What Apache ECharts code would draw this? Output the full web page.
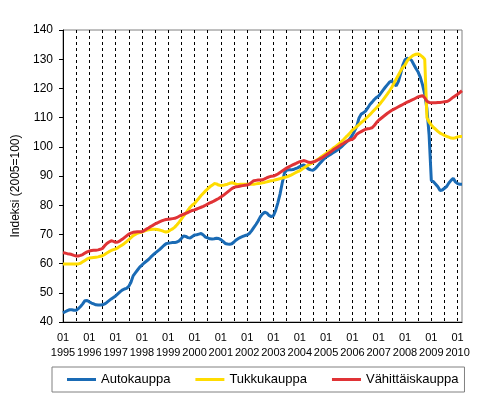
<!DOCTYPE html>
<html>
<head>
<meta charset="utf-8">
<title>Indeksi</title>
<script src="https://cdn.jsdelivr.net/npm/echarts@6/dist/echarts.min.js"></script>
<style>
  html, body { margin: 0; padding: 0; background: #fff; }
  #main { width: 488px; height: 411px; }
</style>
</head>
<body>
<div id="main"></div>
<script>
  // kuukausittain 01/1995 - 03/2010
  const years = ['1995', '1996', '1997', '1998', '1999', '2000', '2001', '2002', '2003',
    '2004', '2005', '2006', '2007', '2008', '2009', '2010']
  const monthsInLastYear = 3

  const autokauppa = [
    43.1, 43.5, 43.9, 44.2, 44.2, 44.0, 44.0, 44.6, 45.3, 46.2, 47.3, 47.4,
    46.9, 46.5, 46.2, 45.9, 45.8, 45.8, 45.9, 46.2, 46.7, 47.3, 47.9, 48.4,
    48.9, 49.6, 50.3, 50.9, 51.3, 51.5, 52.2, 53.6, 55.8, 56.8, 57.8, 58.8,
    59.5, 60.2, 60.8, 61.4, 62.2, 62.9, 63.6, 64.2, 64.8, 65.5, 66.2, 66.8,
    67.0, 67.1, 67.2, 67.2, 67.4, 67.8, 68.6, 69.5, 69.3, 68.9, 68.8, 69.3,
    69.8, 69.9, 70.1, 70.3, 69.8, 69.1, 68.8, 68.5, 68.4, 68.5, 68.7, 68.6,
    68.2, 67.6, 66.9, 66.7, 66.6, 66.8, 67.4, 68.1, 68.6, 69.0, 69.3, 69.6,
    69.8, 70.3, 71.2, 72.3, 73.4, 74.6, 76.0, 77.0, 77.6, 77.3, 76.5, 76.1,
    76.4, 78.2, 80.8, 83.8, 87.6, 91.0, 92.0, 92.1, 92.1, 92.2, 92.5, 92.8,
    93.2, 93.6, 93.8, 93.0, 92.4, 92.1, 92.0, 92.5, 93.3, 94.2, 95.0, 95.8,
    96.5, 96.9, 97.4, 97.9, 98.3, 98.8, 99.4, 100.0, 100.7, 101.4, 102.1, 102.9,
    104.0, 105.5, 107.0, 109.8, 111.2, 111.6, 112.2, 113.3, 114.5, 115.3, 116.2, 116.9,
    117.4, 118.4, 119.4, 120.4, 121.3, 122.2, 122.6, 121.5, 120.9, 122.4, 125.0, 128.0,
    129.8, 130.3, 130.2, 129.6, 128.2, 126.8, 125.6, 123.8, 121.2, 118.0, 113.0, 104.0,
    88.5, 88.0, 87.2, 86.3, 85.0, 85.2, 85.8, 86.4, 87.6, 88.5, 89.2, 88.0,
    87.4, 87.2, 87.2
  ]

  const tukkukauppa = [
    59.9, 59.9, 59.9, 59.9, 59.9, 59.9, 59.9, 59.9, 60.1, 60.6, 61.1, 61.6,
    61.9, 62.0, 62.1, 62.2, 62.3, 62.5, 62.7, 63.1, 63.6, 64.1, 64.5, 64.8,
    65.0, 65.4, 65.9, 66.4, 66.9, 67.5, 68.2, 68.9, 69.6, 70.0, 70.4, 70.6,
    70.8, 71.1, 71.4, 71.6, 71.7, 71.8, 71.8, 71.7, 71.5, 71.3, 71.0, 70.8,
    71.0, 71.5, 71.9, 72.5, 73.3, 74.2, 75.2, 76.3, 77.3, 78.3, 79.3, 80.1,
    80.6, 81.5, 82.4, 83.3, 84.1, 84.9, 85.6, 86.3, 86.8, 87.4, 87.3, 86.9,
    86.7, 86.8, 87.0, 87.2, 87.5, 87.7, 87.5, 87.2, 87.1, 87.2, 87.2, 87.2,
    87.2, 87.2, 87.2, 87.2, 87.3, 87.4, 87.5, 87.7, 87.8, 88.0, 88.2, 88.4,
    88.5, 88.7, 88.9, 89.1, 89.3, 89.5, 89.7, 90.0, 90.3, 90.7, 91.1, 91.5,
    91.8, 92.3, 92.8, 93.3, 93.8, 94.2, 94.6, 95.1, 95.6, 96.1, 96.7, 97.2,
    97.7, 98.3, 98.8, 99.4, 99.9, 100.5, 101.1, 101.8, 102.5, 103.3, 104.0, 104.8,
    105.7, 106.3, 106.9, 107.6, 108.3, 108.9, 109.6, 110.3, 111.0, 111.8, 112.6, 113.4,
    114.2, 115.1, 116.1, 117.1, 118.1, 119.2, 120.4, 121.8, 123.2, 124.6, 126.0, 127.2,
    128.0, 129.4, 130.3, 130.9, 131.4, 131.7, 131.8, 131.4, 130.8, 130.0, 110.0, 108.5,
    107.5, 106.6, 106.0, 105.3, 104.7, 104.3, 103.9, 103.6, 103.3, 103.0, 102.9, 103.1,
    103.4, 103.5, 103.5
  ]

  const vahittaiskauppa = [
    63.7, 63.6, 63.4, 63.3, 63.1, 62.8, 62.6, 62.6, 62.8, 63.1, 63.6, 64.0,
    64.3, 64.5, 64.6, 64.6, 64.7, 64.9, 65.2, 66.1, 66.9, 67.4, 67.8, 67.6,
    67.3, 67.4, 67.8, 68.3, 68.9, 69.5, 70.1, 70.4, 70.7, 70.8, 70.9, 70.9,
    70.9, 71.3, 71.8, 72.2, 72.7, 73.1, 73.6, 73.9, 74.3, 74.6, 74.9, 75.1,
    75.2, 75.3, 75.4, 75.5, 75.8, 76.2, 76.6, 76.9, 77.2, 77.5, 77.9, 78.2,
    78.4, 78.7, 79.0, 79.3, 79.6, 80.0, 80.4, 80.8, 81.1, 81.5, 81.9, 82.3,
    82.8, 83.3, 83.9, 84.5, 85.1, 85.7, 86.1, 86.3, 86.4, 86.6, 86.7, 86.8,
    86.9, 87.2, 87.8, 88.4, 88.5, 88.6, 88.6, 88.7, 89.0, 89.4, 89.7, 89.9,
    90.0, 90.3, 90.7, 91.2, 91.7, 92.2, 92.7, 93.1, 93.5, 93.9, 94.2, 94.6,
    94.9, 95.1, 95.3, 95.0, 94.7, 94.6, 94.8, 95.0, 95.4, 95.8, 96.2, 96.7,
    97.2, 97.7, 98.2, 98.8, 99.3, 99.8, 100.3, 100.8, 101.2, 101.7, 102.1, 102.4,
    102.6, 103.2, 104.3, 104.8, 105.2, 105.6, 106.0, 106.2, 106.3, 106.5, 107.3, 108.3,
    109.1, 109.7, 110.3, 110.9, 111.5, 112.0, 112.5, 112.9, 113.3, 113.7, 114.1, 114.5,
    114.9, 115.3, 115.6, 116.0, 116.3, 116.7, 117.1, 117.3, 117.5, 116.8, 115.6, 115.2,
    115.1, 115.1, 115.1, 115.2, 115.2, 115.3, 115.4, 115.5, 115.8, 116.4, 117.0, 117.5,
    118.0, 118.6, 119.2
  ]

  // kategoriat muotoa "01\n1995"
  let categories = []
  years.forEach((y, i) => {
    let n = i === years.length - 1 ? monthsInLastYear : 12
    for (let m = 1; m <= n; m++) {
      categories.push((m < 10 ? '0' + m : '' + m) + '\n' + y)
    }
  })

  const font = "'Liberation Sans', Arial, sans-serif"

  let myEcharts = echarts.init(document.querySelector('#main'), null, { renderer: 'canvas' })
  let option = {
    animation: false,
    backgroundColor: '#fff',
    textStyle: { fontFamily: font, color: '#000' },
    grid: {
      show: true,
      left: 63,
      right: 26,
      top: 30,
      bottom: 89,
      borderColor: '#808080',
      borderWidth: 1,
      containLabel: false
    },
    legend: {
      left: 52,
      top: 367,
      orient: 'horizontal',
      padding: [5, 6, 5, 15],
      itemGap: 25,
      itemWidth: 29,
      itemHeight: 3,
      icon: 'rect',
      borderColor: '#808080',
      borderWidth: 1,
      textStyle: { fontFamily: font, fontSize: 13, color: '#000', lineHeight: 15 },
      data: ['Autokauppa', 'Tukkukauppa', 'Vähittäiskauppa']
    },
    xAxis: {
      type: 'category',
      boundaryGap: false,
      data: categories,
      axisLine: { lineStyle: { color: '#000', width: 1 } },
      axisTick: { show: false },
      axisLabel: {
        interval: 11,
        margin: 8,
        fontSize: 11,
        lineHeight: 15,
        color: '#000',
        fontFamily: font
      },
      splitLine: {
        show: true,
        interval: 5,
        lineStyle: { color: '#000', width: 1, type: [3, 3] }
      }
    },
    yAxis: {
      type: 'value',
      min: 40,
      max: 140,
      interval: 10,
      name: 'Indeksi (2005=100)',
      nameLocation: 'middle',
      nameGap: 40,
      nameTextStyle: { fontSize: 12, color: '#000', fontFamily: font, padding: [0, 20, 0, 0] },
      axisLine: { show: true, lineStyle: { color: '#000', width: 1 } },
      axisTick: { show: true, length: 4, lineStyle: { color: '#000' } },
      axisLabel: { margin: 10, fontSize: 12, color: '#000', fontFamily: font },
      splitLine: { show: false }
    },
    series: [
      {
        name: 'Autokauppa',
        type: 'line',
        data: autokauppa,
        symbol: 'none',
        lineStyle: { color: '#1a6bb5', width: 3 },
        itemStyle: { color: '#1a6bb5' }
      },
      {
        name: 'Tukkukauppa',
        type: 'line',
        data: tukkukauppa,
        symbol: 'none',
        lineStyle: { color: '#ffdc00', width: 3 },
        itemStyle: { color: '#ffdc00' }
      },
      {
        name: 'Vähittäiskauppa',
        type: 'line',
        data: vahittaiskauppa,
        symbol: 'none',
        lineStyle: { color: '#e03336', width: 3 },
        itemStyle: { color: '#e03336' }
      }
    ]
  }
  myEcharts.setOption(option)
</script>
</body>
</html>
